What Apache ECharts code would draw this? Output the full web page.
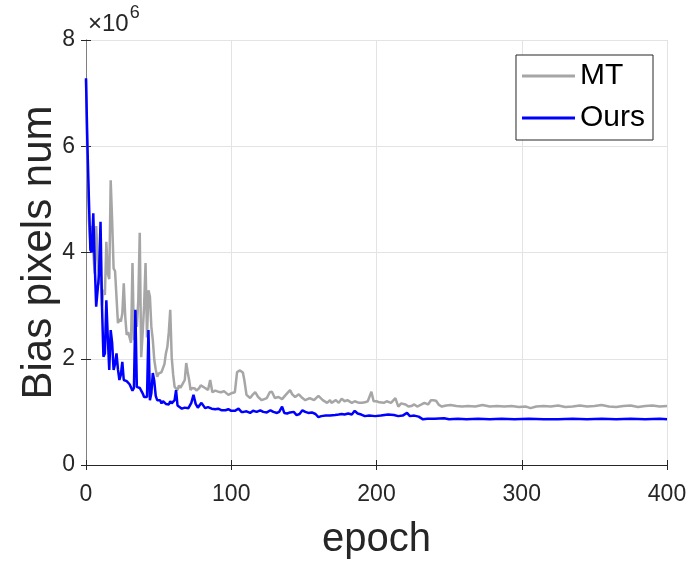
<!DOCTYPE html>
<html>
<head>
<meta charset="utf-8">
<script src="https://cdn.jsdelivr.net/npm/echarts@6/dist/echarts.min.js"></script>
<style>html,body{margin:0;padding:0;background:#fff}#c{width:693px;height:561px}</style>
</head>
<body>
<div id="c"></div>
<script>
// values in units of 1e6 pixels
const mtEpochs = [0,1,2,3,4,5,6,7,8,9,10,11,12,13,14,15,16,17,18,19,20,21,22,23,24,25,26,27,28,29,30,31,32,33,34,35,36,37,38,39,40,41,42,43,44,45,46,47,48,49,50,51,52,53,54,55,56,57,58,59,60,61,62,63,64,65,66,67,68,69,70,71,72,73,74,75,76,77,78,79,80,82,84,85.5,87,89,91,93,95,98,100,102.5,104,106,108,109,110.5,111.5,113,115,116.5,118.5,121,124.5,126.5,128,130,132.5,135,137.5,140.5,142,144,146.5,149,151,154,157,160,163,166,168,169,172,174,176,178,180,183,185,188,190,192,194,196.5,198,200,202,205,207,210,213,215,217,220,222,224,226,228,231,233,235.5,237.5,239,241,243,245,248,251,255,259,263,268,273,278,283,288,293,298,303,306,310,315,320,325,330,335,340,345,350,355,360,365,370,375,380,385,390,395,400];
const mtValues = [7.25,5.6,4.6,4.2,4.5,4.0,3.6,4.5,3.9,3.4,3.7,3.0,3.3,3.2,4.2,3.6,3.5,5.36,4.6,3.7,3.65,3.68,2.67,2.75,2.7,2.85,3.42,2.8,2.45,2.5,2.4,2.3,3.8,2.35,2.9,2.6,3.1,4.37,2.03,2.48,3.0,3.8,2.4,3.29,3.17,2.6,2.35,1.98,1.8,1.66,1.72,1.7,1.75,1.75,1.9,2.1,2.22,2.5,2.92,2.03,1.7,1.47,1.45,1.41,1.5,1.45,1.48,1.55,1.6,1.92,1.75,1.6,1.41,1.45,1.42,1.44,1.4,1.41,1.45,1.5,1.48,1.45,1.41,1.6,1.37,1.4,1.38,1.37,1.39,1.32,1.35,1.37,1.75,1.78,1.74,1.6,1.32,1.35,1.26,1.33,1.37,1.28,1.22,1.26,1.37,1.38,1.26,1.28,1.24,1.32,1.41,1.33,1.28,1.33,1.26,1.22,1.26,1.22,1.3,1.22,1.17,1.22,1.17,1.22,1.17,1.25,1.2,1.22,1.17,1.2,1.17,1.17,1.18,1.2,1.38,1.2,1.2,1.18,1.17,1.2,1.17,1.26,1.1,1.16,1.14,1.1,1.11,1.14,1.1,1.14,1.17,1.14,1.22,1.22,1.21,1.13,1.1,1.12,1.13,1.11,1.1,1.11,1.1,1.13,1.1,1.11,1.1,1.11,1.09,1.1,1.07,1.1,1.11,1.1,1.12,1.09,1.1,1.12,1.1,1.11,1.13,1.1,1.09,1.11,1.12,1.09,1.11,1.12,1.1,1.11];

const oursEpochs = [0,1,2,3,4,5,6,7,8,9,10,11,12,13,14,15,16,17,18,19,20,21,22,23,24,25,26,27,28,29,30,31,32,33,34,35,36,37,38,39,40,41,42,43,44,45,46,47,48,49,50,51,52,53,54,55,56,57,58,59,60,61,62,63,64,66,68,70.5,72.5,74,75.5,77,79.5,82,84,86.5,89,91,93.5,96,98,100,102.5,105,107,108.5,110.5,113,115,117.5,120,122,124.5,127,129,131.5,133,135,136.5,138.5,140.5,143,145,147,149,151,153,155.5,158,160,162,165,168,171.5,174,176,178,180.5,183,185,187,189.5,192,195,199,203,208,212,215,218,221,223,226,229,232,235,240,246.5,250,256,262,270,278,286,295,305,315,325,335,345,355,365,375,385,395,400];
const oursValues = [7.28,6.0,5.0,4.05,4.0,4.74,3.8,2.98,2.98,3.6,4.58,3.0,2.04,2.1,3.1,2.4,1.79,2.54,2.3,1.79,1.9,2.1,1.8,1.6,1.7,1.94,1.6,1.57,1.58,1.55,1.52,1.5,1.4,1.45,2.92,1.47,1.5,1.45,1.47,1.35,1.28,1.3,1.28,2.54,1.22,1.35,1.73,1.58,1.3,1.22,1.25,1.22,1.16,1.2,1.22,1.15,1.18,1.14,1.2,1.16,1.13,1.22,1.41,1.12,1.09,1.06,1.08,1.07,1.17,1.32,1.15,1.08,1.17,1.07,1.09,1.06,1.05,1.06,1.03,1.03,1.05,1.02,1.02,1.06,1.0,1.0,1.01,0.98,1.02,1.0,1.03,1.0,0.99,1.03,1.0,0.98,1.0,1.1,0.98,0.97,0.99,1.0,0.94,0.96,1.03,1.0,0.98,0.99,0.96,0.9,0.92,0.93,0.93,0.94,0.95,0.96,0.95,0.97,0.95,1.02,0.97,0.95,0.92,0.93,0.92,0.93,0.95,0.94,0.92,0.93,0.98,0.92,0.93,0.91,0.86,0.87,0.87,0.88,0.86,0.87,0.86,0.87,0.86,0.87,0.86,0.87,0.86,0.86,0.87,0.86,0.87,0.86,0.87,0.86,0.87,0.86];

const xTicks = [0,100,200,300,400];
const yTicks = [0,2,4,6,8];
const seriesNames = ['MT','Ours'];

const zip = (xs, ys) => xs.map((x, i) => [x, ys[i]]);
const FONT = 'Liberation Sans';
const TXT = '#262626';

const chart = echarts.init(document.getElementById('c'), null, {renderer: 'canvas'});
chart.setOption({
  animation: false,
  backgroundColor: '#fff',
  textStyle: {fontFamily: FONT},
  grid: {left: 86, right: 26, top: 40, bottom: 96, containLabel: false, outerBoundsMode: 'none'},
  xAxis: [{
    type: 'value', min: xTicks[0], max: xTicks[xTicks.length-1], interval: 100,
    name: 'epoch', nameLocation: 'middle', nameGap: 55, nameMoveOverlap: false,
    nameTextStyle: {fontSize: 40, color: TXT, fontFamily: FONT},
    axisLine: {show: true, lineStyle: {color: '#7f7f7f', width: 1}},
    axisTick: {show: true, inside: true, length: 5, lineStyle: {color: TXT}},
    axisLabel: {fontSize: 23, color: TXT, margin: 18, fontFamily: FONT},
    splitLine: {show: true, lineStyle: {color: '#e3e3e3', width: 1}}
  }, {
    type: 'value', position: 'top', min: 0, max: 400, interval: 100,
    axisLine: {show: true, lineStyle: {color: TXT, width: 1}},
    axisTick: {show: true, inside: true, length: 5, lineStyle: {color: TXT}},
    axisLabel: {show: false}, splitLine: {show: false}
  }],
  yAxis: [{
    type: 'value', min: yTicks[0], max: yTicks[yTicks.length-1], interval: 2,
    name: 'Bias pixels num', nameLocation: 'middle', nameGap: 26, nameMoveOverlap: false,
    nameTextStyle: {fontSize: 42, color: TXT, fontFamily: FONT},
    axisLine: {show: true, lineStyle: {color: '#7f7f7f', width: 1}},
    axisTick: {show: true, inside: true, length: 5, lineStyle: {color: TXT}},
    axisLabel: {fontSize: 23, color: TXT, margin: 11, fontFamily: FONT},
    splitLine: {show: true, lineStyle: {color: '#e3e3e3', width: 1}}
  }, {
    type: 'value', position: 'right', min: 0, max: 8, interval: 2,
    axisLine: {show: true, lineStyle: {color: '#7f7f7f', width: 1}},
    axisTick: {show: true, inside: true, length: 5, lineStyle: {color: TXT}},
    axisLabel: {show: false}, splitLine: {show: false}
  }],
  legend: {
    orient: 'vertical', right: 40, top: 55,
    data: seriesNames,
    icon: 'rect',
    itemWidth: 53, itemHeight: 3, itemGap: 8,
    padding: [4, 8, 5, 6],
    backgroundColor: '#fff', borderColor: TXT, borderWidth: 1,
    textStyle: {fontSize: 30, color: '#000', fontFamily: FONT, lineHeight: 34}
  },
  graphic: [{
    type: 'text', left: 88, top: 4,
    style: {
      text: '{a|×10}{b|6}',
      rich: {
        a: {fontSize: 24, fill: TXT, fontFamily: FONT, verticalAlign: 'bottom', lineHeight: 32},
        b: {fontSize: 18, fill: TXT, fontFamily: FONT, verticalAlign: 'top', lineHeight: 32, padding: [0,0,14,1]}
      }
    }
  }],
  series: [{
    name: seriesNames[0], type: 'line', symbol: 'none', z: 2,
    data: zip(mtEpochs, mtValues),
    lineStyle: {color: '#a6a6a6', width: 2.5}, itemStyle: {color: '#a6a6a6'}
  }, {
    name: seriesNames[1], type: 'line', symbol: 'none', z: 3,
    data: zip(oursEpochs, oursValues),
    lineStyle: {color: '#0000ff', width: 2.5}, itemStyle: {color: '#0000ff'}
  }]
});
</script>
</body>
</html>
